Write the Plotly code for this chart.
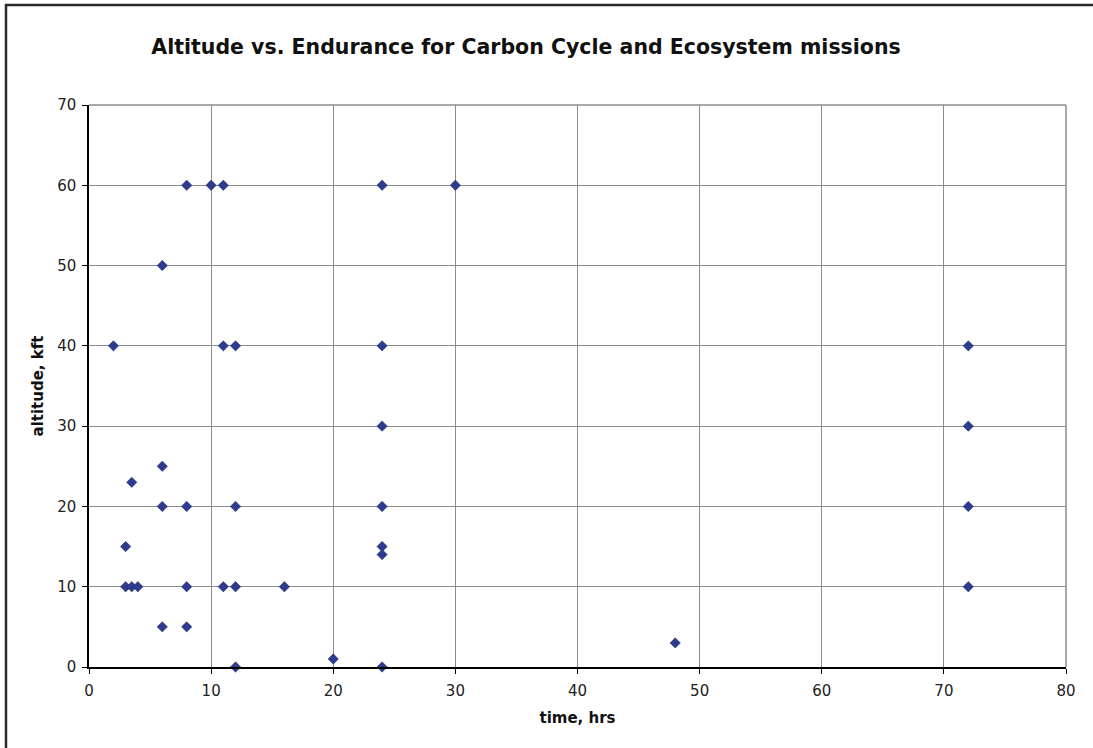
import plotly.graph_objects as go

time_hrs = [2, 3, 3, 3.5, 3.5, 4, 6, 6, 6, 6, 8, 8, 8, 8, 10, 11, 11, 11,
            12, 12, 12, 12, 16, 20, 24, 24, 24, 24, 24, 24, 24, 30, 48,
            72, 72, 72, 72]
altitude_kft = [40, 15, 10, 23, 10, 10, 50, 25, 20, 5, 60, 20, 10, 5, 60, 60, 40, 10,
                40, 20, 10, 0, 10, 1, 60, 40, 30, 20, 15, 14, 0, 60, 3,
                40, 30, 20, 10]

x_ticks = [0, 10, 20, 30, 40, 50, 60, 70, 80]
y_ticks = [0, 10, 20, 30, 40, 50, 60, 70]

FONT = "DejaVu Sans"

fig = go.Figure()
fig.add_trace(go.Scatter(
    x=time_hrs, y=altitude_kft, mode="markers",
    marker=dict(symbol="diamond", size=8, color="#2E3B8E",
                line=dict(color="#1F2A70", width=0.5)),
    showlegend=False, cliponaxis=False,
))

axis_common = dict(
    showgrid=True, gridcolor="#8C8C8C", gridwidth=1,
    zeroline=False, showline=True, linecolor="#000000", linewidth=1.5,
    ticks="outside", ticklen=5, tickcolor="#000000", tickwidth=1,
    tickfont=dict(family=FONT, size=15, color="#222222"),
)

fig.update_xaxes(range=[0, 80], tickvals=x_ticks, mirror=False, ticklabelstandoff=4,
                 title=dict(text="<b>time, hrs</b>", font=dict(family=FONT, size=15, color="#111111"), standoff=14),
                 **axis_common)
fig.update_yaxes(range=[0, 70], tickvals=y_ticks, mirror=False, ticklabelstandoff=3,
                 title=dict(text="<b>altitude, kft</b>", font=dict(family=FONT, size=15, color="#111111"), standoff=10),
                 **axis_common)

# top and right gray plot-area border
fig.add_shape(type="line", xref="paper", yref="paper", x0=0, x1=1, y0=1, y1=1,
              line=dict(color="#8C8C8C", width=1.5))
fig.add_shape(type="line", xref="paper", yref="paper", x0=1, x1=1, y0=0, y1=1,
              line=dict(color="#8C8C8C", width=1.5))

# outer chart frame (left and top edges visible)
L, R, T, B = 89, 27, 105, 81
W, H = 1093, 748
pw, ph = W - L - R, H - T - B
def px_to_paper_x(px):
    return (px - L) / pw
def py_to_paper_y(py):
    return (H - B - py) / ph
fig.add_shape(type="line", xref="paper", yref="paper",
              x0=px_to_paper_x(6), x1=px_to_paper_x(6),
              y0=py_to_paper_y(760), y1=py_to_paper_y(4),
              line=dict(color="#2A2A2A", width=2.5))
fig.add_shape(type="line", xref="paper", yref="paper",
              x0=px_to_paper_x(5), x1=px_to_paper_x(1100),
              y0=py_to_paper_y(5), y1=py_to_paper_y(5),
              line=dict(color="#2A2A2A", width=2.5))

fig.update_layout(
    width=W, height=H,
    margin=dict(l=L, r=R, t=T, b=B),
    paper_bgcolor="white", plot_bgcolor="white",
    title=dict(text="<b>Altitude vs. Endurance for Carbon Cycle and Ecosystem missions</b>",
               x=526 / W, xanchor="center", y=1 - 47 / H, yanchor="middle",
               font=dict(family=FONT, size=20.5, color="#111111")),
)

fig.write_html("out.html")
